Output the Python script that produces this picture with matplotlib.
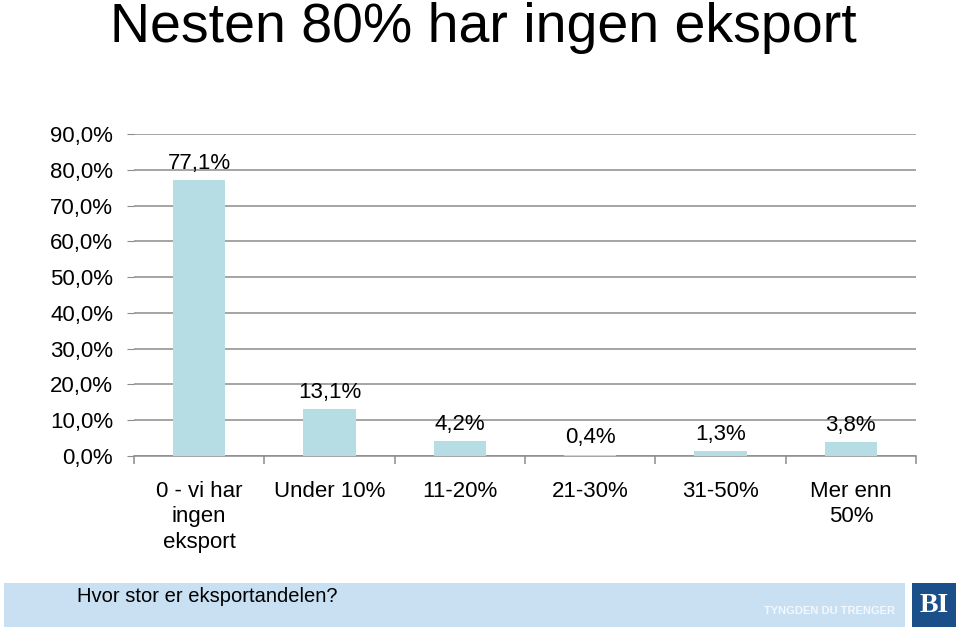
import numpy as np
import matplotlib.pyplot as plt
from matplotlib.patches import Rectangle

plt.rcParams['font.family'] = ['Liberation Sans', 'DejaVu Sans']

categories = ['0 - vi har\ningen\neksport', 'Under 10%', '11-20%', '21-30%', '31-50%', 'Mer enn\n50%']
values = [77.1, 13.1, 4.2, 0.4, 1.3, 3.8]
yticks = [0, 10, 20, 30, 40, 50, 60, 70, 80, 90]

fig = plt.figure(figsize=(9.6, 6.29), dpi=100)
ax = fig.add_axes([134 / 960, 1 - 456 / 629, (916 - 134) / 960, (456 - 134) / 629])

x = np.arange(len(categories))
ax.bar(x, values, width=0.4, color='#B7DDE4', zorder=3)
for xi, v in zip(x, values):
    ax.text(xi, v + 1.7, f'{v:.1f}%'.replace('.', ','), ha='center', va='bottom', fontsize=16)

ax.set_xlim(-0.5, len(categories) - 0.5)
ax.set_ylim(0, 90)
ax.set_yticks(yticks)
ax.set_yticklabels([f'{t:.1f}%'.replace('.', ',') for t in yticks], fontsize=16)
ax.yaxis.grid(True, color='#8C8C8C', linewidth=1.1, zorder=0)
ax.tick_params(axis='y', length=5, color='#8C8C8C', pad=10)

ax.set_xticks(x)
ax.set_xticklabels(categories, fontsize=16, linespacing=1.28, va='top')
ax.tick_params(axis='x', which='major', length=0, pad=18)
ax.set_xticks(np.arange(len(categories) + 1) - 0.5, minor=True)
ax.tick_params(axis='x', which='minor', length=6, color='#8C8C8C', width=1.1)

for s in ['top', 'right', 'left']:
    ax.spines[s].set_visible(False)
ax.spines['bottom'].set_color('#8C8C8C')
ax.spines['bottom'].set_linewidth(1.1)

fig.text(483 / 960, 1 - 42 / 629, 'Nesten 80% har ingen eksport', ha='center', va='baseline', fontsize=40)

# footer band
fig.patches.append(Rectangle((4 / 960, 2 / 629), 901 / 960, 44 / 629, transform=fig.transFigure,
                             facecolor='#C8E0F2', edgecolor='none'))
fig.text(77 / 960, 1 - 597 / 629, 'Hvor stor er eksportandelen?', ha='left', va='center', fontsize=14.5)
fig.text(895 / 960, 1 - 611 / 629, 'TYNGDEN DU TRENGER', ha='right', va='center', fontsize=8,
         color='#F2F8FC', fontweight='bold')
fig.patches.append(Rectangle((912 / 960, 2 / 629), 44 / 960, 44 / 629, transform=fig.transFigure,
                             facecolor='#1B4F8A', edgecolor='none'))
fig.text(934 / 960, 1 - 605 / 629, 'BI', ha='center', va='center', fontsize=20, color='white',
         fontweight='bold', family='Liberation Serif')

fig.savefig('out.png', dpi=100)
